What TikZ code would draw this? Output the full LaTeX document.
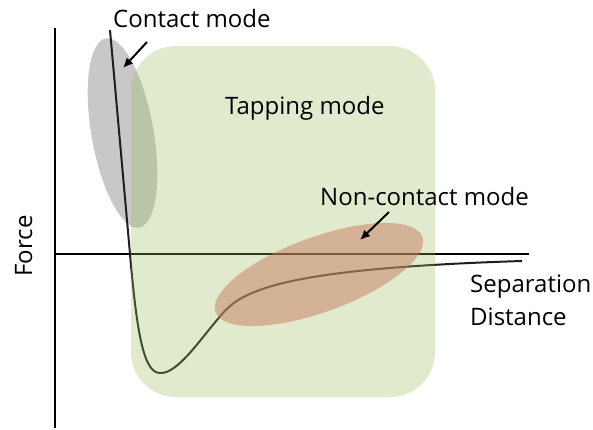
\documentclass[tikz,border=0pt]{standalone}
\usepackage{fontspec}
\setmainfont{Open Sans}
\usetikzlibrary{arrows.meta}
\definecolor{greyfill}{RGB}{200,200,200}
\definecolor{greenfill}{RGB}{155,187,89}
\definecolor{brownfill}{RGB}{199,121,95}
\definecolor{curvecol}{RGB}{30,30,30}
\tikzset{
  lbl/.style={font=\fontsize{24}{28}\selectfont, inner sep=0pt, anchor=base west},
  axis/.style={line width=2pt, black},
  fcurve/.style={line width=2pt, curvecol, line join=round},
  pointer/.style={line width=2pt, -{Latex[length=10pt,width=9pt]}}
}
\begin{document}
\begin{tikzpicture}[x=1pt,y=-1pt]
\useasboundingbox (0,0) rectangle (593,430);
% contact region (grey ellipse)
\fill[greyfill, rotate around={10:(122.5,133)}] (122.5,133) ellipse [x radius=31, y radius=96];
% axes
\draw[axis] (55,28) -- (55,428);
\draw[axis] (55,254) -- (529,254);
% force curve
\draw[fcurve] (110,30) -- (130,254)
  .. controls (137,335) and (144,373) .. (160,373)
  .. controls (178,374) and (200,339) .. (223,313)
  .. controls (245,287) and (300,268) .. (522,261);
% tapping region
\fill[greenfill, opacity=0.3, rounded corners=45pt] (131,46) rectangle (435,397);
% non-contact region
\fill[brownfill, opacity=0.5, rotate around={20:(319,274.5)}] (319,274.5) ellipse [x radius=110, y radius=37.5];
% labels
\node[lbl] (contact) at (113,28) {Contact mode};
\node[lbl] (tapping) at (225,115) {Tapping mode};
\node[lbl] (noncontact) at (320,205) {Non-contact mode};
\node[lbl] (sep) at (470,292) {Separation};
\node[lbl] (dist) at (470,325) {Distance};
\node[font=\fontsize{24}{28}\selectfont, inner sep=0pt, anchor=base, rotate=90] (force) at (32,246) {Force};
% pointers
\coordinate (cs) at (147,42);
\coordinate (ct) at (123,68);
\coordinate (ns) at (389,212);
\coordinate (nt) at (360,240);
\draw[pointer] (cs) -- (ct);
\draw[pointer] (ns) -- (nt);
\end{tikzpicture}
\end{document}
